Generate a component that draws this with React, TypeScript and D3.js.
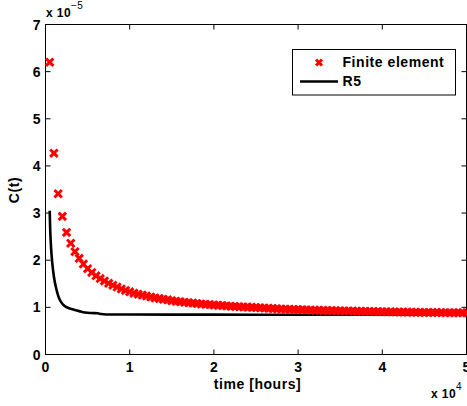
import React from "react";
import * as d3 from "d3";

// Finite element samples: time (x 10^4 hours) and C(t) (x 10^-5)
const feTime: number[] = Array.from({ length: 100 }, (_, i) => (i + 1) * 0.05);
const feValues: number[] = [
  6.2, 4.27, 3.41, 2.93, 2.59, 2.36, 2.18, 2.04, 1.92, 1.82,
  1.74, 1.67, 1.61, 1.56, 1.51, 1.47, 1.43, 1.39, 1.36, 1.33,
  1.3, 1.28, 1.26, 1.24, 1.22, 1.2, 1.19, 1.17, 1.16, 1.14,
  1.13, 1.12, 1.11, 1.1, 1.09, 1.08, 1.07, 1.065, 1.06, 1.05,
  1.045, 1.04, 1.03, 1.025, 1.02, 1.015, 1.01, 1.005, 1.0, 0.995,
  0.99, 0.985, 0.98, 0.975, 0.97, 0.966, 0.962, 0.958, 0.955, 0.952,
  0.949, 0.946, 0.943, 0.94, 0.938, 0.936, 0.933, 0.931, 0.929, 0.927,
  0.925, 0.923, 0.921, 0.919, 0.917, 0.915, 0.913, 0.911, 0.91, 0.908,
  0.906, 0.905, 0.903, 0.902, 0.9, 0.899, 0.897, 0.896, 0.895, 0.893,
  0.892, 0.891, 0.89, 0.889, 0.888, 0.887, 0.886, 0.885, 0.884, 0.883,
];

// R5 curve
const r5Time: number[] = [0.05, 0.055, 0.065, 0.08, 0.1, 0.13, 0.16, 0.19, 0.22, 0.28, 0.34, 0.4, 0.47, 0.55, 0.62, 0.66, 0.72, 1.0, 2.0, 3.0, 4.0, 5.0];
const r5Values: number[] = [3.05, 2.7, 2.3, 1.95, 1.65, 1.38, 1.2, 1.1, 1.04, 0.98, 0.95, 0.92, 0.89, 0.88, 0.875, 0.86, 0.85, 0.847, 0.845, 0.843, 0.842, 0.842];

const xTicks: number[] = [0, 1, 2, 3, 4, 5];
const yTicks: number[] = [0, 1, 2, 3, 4, 5, 6, 7];
const legendLabels: string[] = ["Finite element", "R5"];

const W = 467;
const H = 406;
const FONT = "'Liberation Sans', Arial, Helvetica, sans-serif";

export default function App() {
  const x = d3.scaleLinear().domain([0, 5]).range([45.5, 466.5]);
  const y = d3.scaleLinear().domain([0, 7]).range([354.5, 24.5]);
  const line = d3
    .line<number>()
    .x((_, i) => x(r5Time[i]))
    .y((d) => y(d))
    .curve(d3.curveMonotoneX);
  const left = x(0), right = x(5), top = y(7), bottom = y(0);
  const tl = 5;
  const cross = (cx: number, cy: number, s: number, key?: string | number) => (
    <path
      key={key}
      d={`M${cx - s},${cy - s}L${cx + s},${cy + s}M${cx - s},${cy + s}L${cx + s},${cy - s}`}
      stroke="#ff0000"
      strokeWidth={3}
      fill="none"
    />
  );
  const ls = 0.55;
  return (
    <svg
      width={W}
      height={H}
      style={{ position: "absolute", left: 0, top: 0, background: "#fff" }}
      fontFamily={FONT}
      fontWeight="bold"
    >
      <rect x={0} y={0} width={W} height={H} fill="#fff" />
      {/* axes box */}
      <rect x={left} y={top} width={right - left} height={bottom - top} fill="#fff" stroke="#000" strokeWidth={1} />
      {/* ticks */}
      {xTicks.map((t) => (
        <g key={"xt" + t}>
          <line x1={x(t)} x2={x(t)} y1={bottom} y2={bottom - tl} stroke="#000" />
          <line x1={x(t)} x2={x(t)} y1={top} y2={top + tl} stroke="#000" />
          <text x={x(t)} y={372} fontSize={14} textAnchor="middle">{t}</text>
        </g>
      ))}
      {yTicks.map((t) => (
        <g key={"yt" + t}>
          <line x1={left} x2={left + tl} y1={y(t)} y2={y(t)} stroke="#000" />
          <line x1={right} x2={right - tl} y1={y(t)} y2={y(t)} stroke="#000" />
          <text x={40.5} y={y(t) + 5} fontSize={14} textAnchor="end">{t}</text>
        </g>
      ))}
      {/* exponent labels */}
      <text x={46} y={17} fontSize={12} letterSpacing={0.4}>
        x 10<tspan dy={-8} fontSize={10} fontWeight="normal">−5</tspan>
      </text>
      <text x={431} y={398} fontSize={12} letterSpacing={0.4}>
        x 10<tspan dy={-8} fontSize={10} fontWeight="normal">4</tspan>
      </text>
      {/* axis labels */}
      <text x={257.5} y={389} fontSize={14} letterSpacing={ls} textAnchor="middle">time [hours]</text>
      <text transform="translate(19,190) rotate(-90)" fontSize={14} letterSpacing={ls} textAnchor="middle">C(t)</text>
      {/* data */}
      <path d={line(r5Values) || ""} fill="none" stroke="#000" strokeWidth={2.6} />
      {feValues.map((v, i) => cross(x(feTime[i]), y(v), 3.7, i))}
      {/* legend */}
      <rect x={292.5} y={49.5} width={163} height={45.5} fill="#fff" stroke="#000" strokeWidth={1} />
      {cross(319, 62.5, 3, "lg")}
      <text x={342.5} y={67} fontSize={14} letterSpacing={ls}>{legendLabels[0]}</text>
      <line x1={300} x2={338} y1={81.5} y2={81.5} stroke="#000" strokeWidth={2.6} />
      <text x={342.5} y={86} fontSize={14} letterSpacing={ls}>{legendLabels[1]}</text>
    </svg>
  );
}
